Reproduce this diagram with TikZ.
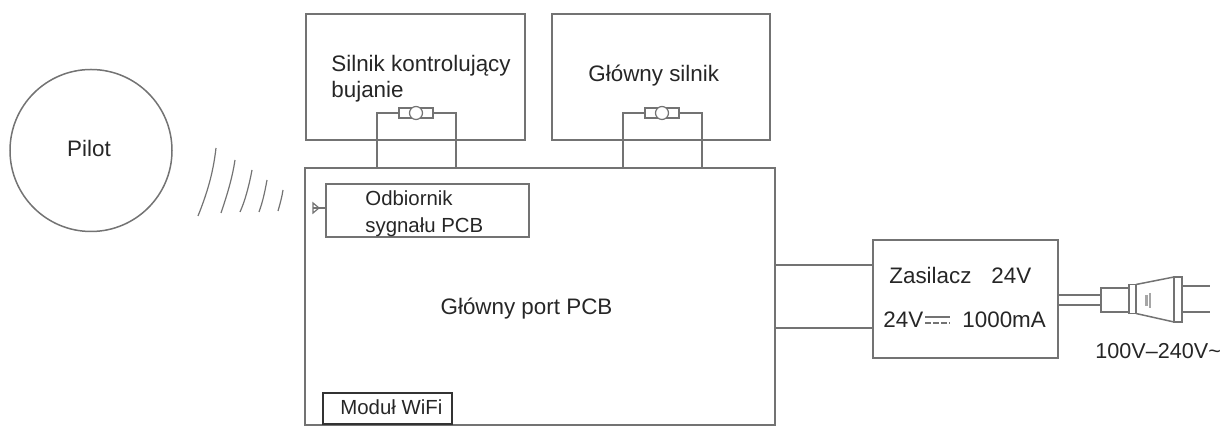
\documentclass[tikz,border=0pt]{standalone}
\usepackage{fontspec}
\setmainfont{Liberation Sans}
\tikzset{
  x=0.5pt, y=-0.5pt,
  line/.style={draw=black!55, line width=0.75pt},
  wave/.style={draw=black!55, line width=0.6pt},
  box/.style={line, draw, anchor=north west, inner sep=0pt, outer sep=0pt},
  part/.style={line, draw, inner sep=0pt, outer sep=0pt},
  label/.style={text=black!85, font=\fontsize{11.2}{13}\selectfont, align=left, inner sep=0pt},
  small/.style={label, font=\fontsize{10.2}{13.5}\selectfont},
  coupler/.style={part, line width=0.6pt, minimum width=17pt, minimum height=5pt},
}
\begin{document}
\begin{tikzpicture}
  \useasboundingbox (0,0) rectangle (1232,431);
  % boxes
  \node[part, circle, minimum size=81pt] (pilot) at (91,150.5) {};
  \node[box, minimum width=109.5pt, minimum height=63pt] (swing) at (306,14) {};
  \node[box, minimum width=109pt, minimum height=63pt] (motor) at (552,14) {};
  \node[box, minimum width=235pt, minimum height=128.5pt] (pcb) at (305,168) {};
  \node[box, minimum width=101.5pt, minimum height=26.5pt] (receiver) at (326,184) {};
  \node[box, draw=black!80, minimum width=64.5pt, minimum height=15.5pt] (wifi) at (323,393) {};
  \node[box, minimum width=92.5pt, minimum height=59pt] (power) at (873,240) {};
  % texts
  \node[label] (pilottext) at (89,149) {Pilot};
  \node[label, anchor=west] (swingtext) at (331,78.5) {Silnik kontrolujący\\bujanie};
  \node[label, anchor=west] (motortext) at (588,75.5) {Główny silnik};
  \node[small, anchor=west] (receivertext) at (365,214) {Odbiornik\\sygnału PCB};
  \node[label] (pcbtext) at (526.5,309) {Główny port PCB};
  \node[small, anchor=west] (wifitext) at (340,407) {Moduł WiFi};
  \node[label, anchor=west] (powertext) at (889,276) {Zasilacz};
  \node[label, anchor=west] (voltstext) at (991,276) {24V};
  \node[label, anchor=west] (ratingtext) at (883,320) {24V};
  \node[label, anchor=west] (currenttext) at (962,320) {1000mA};
  \node[label, anchor=west, font=\fontsize{10.8}{13}\selectfont] (mainstext) at (1095,351) {100V–240V\textasciitilde};
  % couplers on the motors
  \foreach \name/\x in {swing/416, motor/662} {
    \node[coupler] (\name c) at (\x,113) {};
    \node[coupler, circle, minimum width=6.5pt, minimum height=6.5pt, fill=white] (\name o) at (\x,113) {};
  }
  \coordinate (swingl) at (377,168);
  \coordinate (swingr) at (456,168);
  \coordinate (motorl) at (623,168);
  \coordinate (motorr) at (702,168);
  \draw[line] (swingc.west) -- (swingl |- swingc) -- (swingl);
  \draw[line] (swingc.east) -- (swingr |- swingc) -- (swingr);
  \draw[line] (motorc.west) -- (motorl |- motorc) -- (motorl);
  \draw[line] (motorc.east) -- (motorr |- motorc) -- (motorr);
  % power wires
  \coordinate (pcba) at (775,265);
  \coordinate (pcbb) at (775,328);
  \draw[line] (pcba) -- (pcba -| power.west);
  \draw[line] (pcbb) -- (pcbb -| power.west);
  \coordinate (wirea) at (1058,295);
  \coordinate (wireb) at (1058,305);
  % plug
  \node[part, minimum width=14pt, minimum height=12pt] (plugbody) at (1115,300) {};
  \draw[line] (wirea) -- (wirea -| plugbody.west);
  \draw[line] (wireb) -- (wireb -| plugbody.west);
  \node[part, minimum width=3.5pt, minimum height=14.5pt] (plugcollar) at (1132.5,299) {};
  \node[part, minimum width=4pt, minimum height=22.5pt] (plughead) at (1178,299.5) {};
  \draw[line] (plugcollar.north east) -- (plughead.north west);
  \draw[line] (plugcollar.south east) -- (plughead.south west);
  \draw[draw=black!35, line width=1.5pt] (1146,295) -- (1146,306);
  \draw[draw=black!35, line width=0.6pt] (1150,293) -- (1150,308);
  \coordinate (pina) at (1210,286);
  \coordinate (pinb) at (1210,312);
  \draw[line, line width=1.2pt] (pina -| plughead.east) -- (pina);
  \draw[line, line width=1.2pt] (pinb -| plughead.east) -- (pinb);
  % dc symbol
  \draw[line] (925,317) -- (950,317);
  \draw[line, dash pattern=on 3pt off 1pt] (925,323) -- (950,323);
  % waves
  \draw[wave] (216,148) .. controls (213,175) and (206,196) .. (198,216);
  \draw[wave] (235,160) .. controls (232,180) and (226,198) .. (221,213);
  \draw[wave] (252,170) .. controls (249,186) and (245,201) .. (240,212);
  \draw[wave] (267,180) .. controls (265,191) and (263,201) .. (259,212);
  \draw[wave] (283,190) .. controls (282,197) and (280,204) .. (278,211);
  % antenna
  \coordinate (anta) at (313,203);
  \coordinate (antb) at (313,213);
  \coordinate (antc) at (319,208);
  \draw[wave] (anta) -- (antc) -- (antb) -- cycle;
  \draw[wave] (313,208) -- (antc -| receiver.west);
\end{tikzpicture}
\end{document}
